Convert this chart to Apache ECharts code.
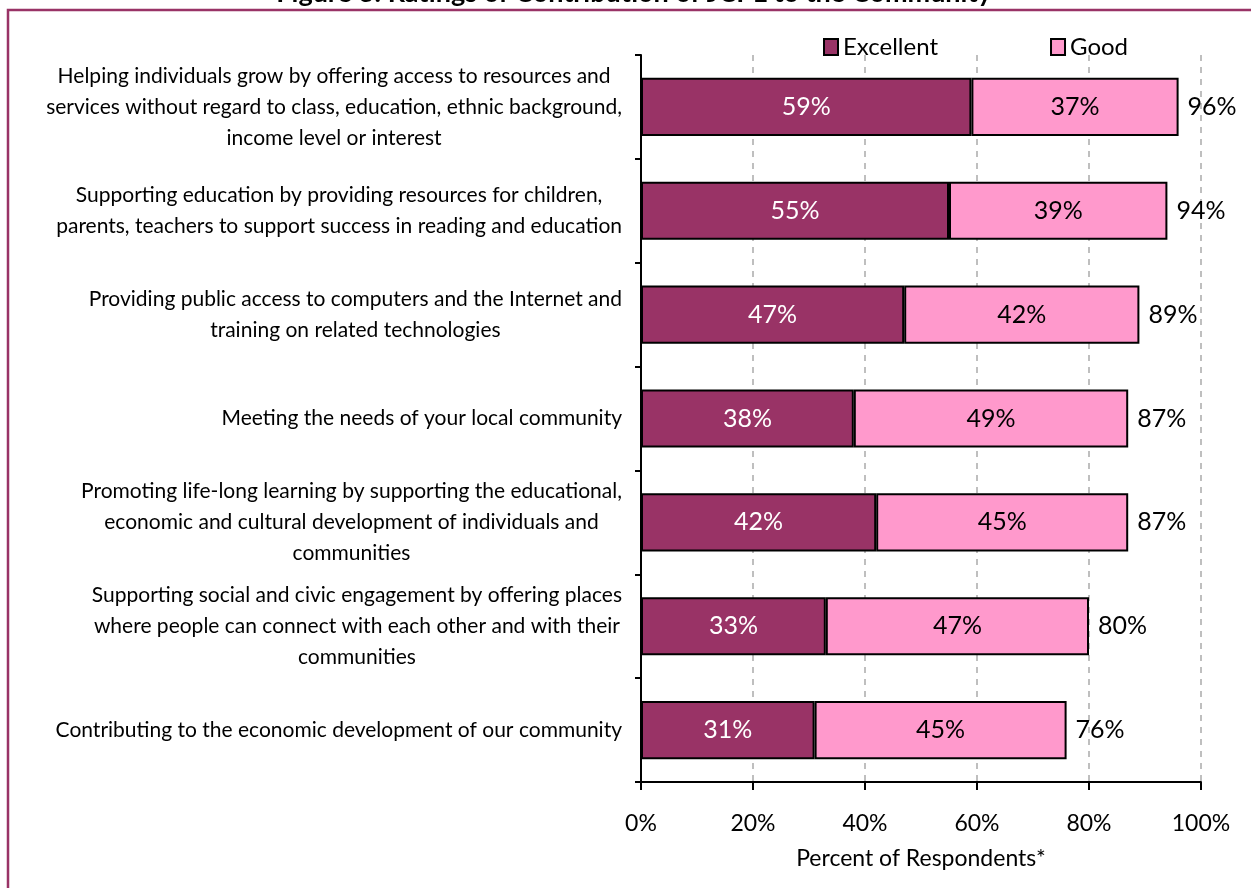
<!DOCTYPE html>
<html>
<head>
<meta charset="utf-8">
<script src="https://cdn.jsdelivr.net/npm/echarts@6/dist/echarts.min.js"></script>
<style>
html,body{margin:0;padding:0;background:#fff;}
#chart{width:1251px;height:888px;}
</style>
</head>
<body>
<div id="chart"></div>
<script>
var categories = [
  "Helping individuals grow by offering access to resources and\nservices without regard to class, education, ethnic background,\nincome level or interest",
  "Supporting education by providing resources for children,\nparents, teachers to support success in reading and education",
  "Providing public access to computers and the Internet and\ntraining on related technologies",
  "Meeting the needs of your local community",
  "Promoting life-long learning by supporting the educational,\neconomic and cultural development of individuals and\ncommunities",
  "Supporting social and civic engagement by offering places\nwhere people can connect with each other and with their\ncommunities",
  "Contributing to the economic development of our community"
];
var excellent = [59, 55, 47, 38, 42, 33, 31];
var good = [37, 39, 42, 49, 45, 47, 45];
var totals = [96, 94, 89, 87, 87, 80, 76];
var xTicks = [0, 20, 40, 60, 80, 100];

var FONT = 'Lato';
var chart = echarts.init(document.getElementById('chart'));
chart.setOption({
  animation: false,
  textStyle: {fontFamily: FONT},
  graphic: [
    {type: 'rect', shape: {x: 8, y: 10, width: 1400, height: 1000}, style: {fill: 'none', stroke: '#993366', lineWidth: 2.5}, silent: true},
    {type: 'text', x: 634, y: 7, style: {text: 'Figure 3: Ratings of Contribution of JCPL to the Community', align: 'center', verticalAlign: 'bottom', font: 'bold 27px ' + FONT, fill: '#000'}, silent: true}
  ],
  legend: {
    data: ['Excellent', 'Good'],
    left: 818, top: 30,
    icon: 'rect', itemWidth: 14, itemHeight: 16, itemGap: 112,
    textStyle: {fontSize: 24, color: '#000', fontFamily: FONT},
    selectedMode: false
  },
  grid: {left: 641, right: 50, top: 55, bottom: 106},
  xAxis: {
    type: 'value', min: 0, max: 100, interval: 20,
    axisLine: {show: true, lineStyle: {color: '#000', width: 2}},
    axisTick: {show: true, length: 8, lineStyle: {color: '#000', width: 2}},
    axisLabel: {fontSize: 23, color: '#000', margin: 30, formatter: function (v) { return v + '%'; }},
    splitLine: {show: true, lineStyle: {color: '#bfbfbf', width: 2, type: [6, 6]}},
    name: 'Percent of Respondents*', nameLocation: 'middle', nameGap: 65,
    nameTextStyle: {fontSize: 23, color: '#000', fontFamily: FONT}
  },
  yAxis: {
    type: 'category', data: categories, inverse: true,
    axisLine: {show: true, lineStyle: {color: '#000', width: 2}},
    axisTick: {show: true, length: 6, lineStyle: {color: '#000', width: 2}},
    axisLabel: {
      align: 'right', margin: 19,
      formatter: function (v) { return v.split('\n').map(function (l) { return '{c|' + l + '}'; }).join('\n'); },
      rich: {c: {align: 'center', fontSize: 21, lineHeight: 31, color: '#000', fontFamily: FONT}}
    }
  },
  series: [
    {
      name: 'Excellent', type: 'bar', stack: 'a', data: excellent, barCategoryGap: '44%',
      itemStyle: {color: '#993366', borderColor: '#000', borderWidth: 2},
      label: {show: true, position: 'inside', color: '#fff', fontSize: 25, fontFamily: FONT, formatter: '{c}%'}
    },
    {
      name: 'Good', type: 'bar', stack: 'a', data: good,
      itemStyle: {color: '#ff99cc', borderColor: '#000', borderWidth: 2},
      label: {show: true, position: 'inside', color: '#000', fontSize: 25, fontFamily: FONT, formatter: '{c}%'}
    },
    {
      name: 'Total', type: 'bar', stack: 'a', data: totals.map(function () { return 0; }),
      itemStyle: {color: 'rgba(0,0,0,0)', borderWidth: 0},
      silent: true,
      label: {show: true, position: 'right', distance: 9, color: '#000', fontSize: 25, fontFamily: FONT,
        formatter: function (p) { return totals[p.dataIndex] + '%'; }}
    }
  ]
});
</script>
</body>
</html>
